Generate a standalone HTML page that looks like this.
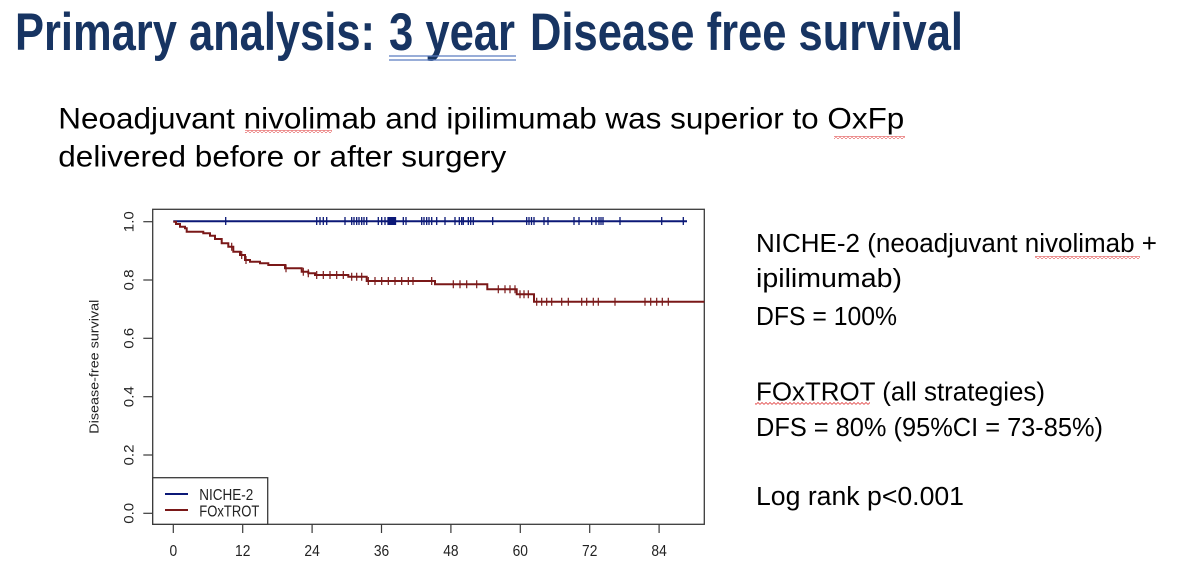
<!DOCTYPE html>
<html>
<head>
<meta charset="utf-8">
<style>
  html,body{margin:0;padding:0;background:#fff;}
  body{width:1200px;height:564px;overflow:hidden;}
  svg{display:block;}
</style>
</head>
<body>
<svg width="1200" height="564" viewBox="0 0 1200 564" xmlns="http://www.w3.org/2000/svg">
  <defs>
    <pattern id="sq" width="4" height="3" patternUnits="userSpaceOnUse">
      <path d="M0,2.5 L2,0.5 L4,2.5" stroke="#e04040" stroke-width="0.8" fill="none"/>
    </pattern>
  </defs>
  <rect width="1200" height="564" fill="#fff"/>

  <!-- Title -->
  <g font-family="'Liberation Sans Narrow','Liberation Sans',sans-serif" font-weight="bold" font-size="53" fill="#173462">
    <text x="15" y="50" textLength="360" lengthAdjust="spacingAndGlyphs">Primary analysis:</text>
    <text x="389" y="50" textLength="126" lengthAdjust="spacingAndGlyphs">3 year</text>
    <text x="530" y="50" textLength="433" lengthAdjust="spacingAndGlyphs">Disease free survival</text>
  </g>
  <line x1="389" y1="56" x2="516" y2="56" stroke="#5a7cc0" stroke-width="1.3"/>
  <line x1="389" y1="60" x2="516" y2="60" stroke="#5a7cc0" stroke-width="1.3"/>

  <!-- Subtitle -->
  <g font-family="'Liberation Sans',sans-serif" font-size="29.5" fill="#000">
    <text x="58.3" y="128.3" textLength="846" lengthAdjust="spacingAndGlyphs">Neoadjuvant nivolimab and ipilimumab was superior to OxFp</text>
    <text x="58.3" y="166.7" textLength="448" lengthAdjust="spacingAndGlyphs">delivered before or after surgery</text>
  </g>
  <rect x="245" y="130" width="87" height="3" fill="url(#sq)"/>
  <rect x="834" y="136" width="71" height="3" fill="url(#sq)"/>

  <!-- Right text -->
  <g font-family="'Liberation Sans',sans-serif" font-size="25.5" fill="#000">
    <text x="756" y="252" textLength="401" lengthAdjust="spacingAndGlyphs">NICHE-2 (neoadjuvant nivolimab +</text>
    <text x="756" y="287" textLength="146" lengthAdjust="spacingAndGlyphs">ipilimumab)</text>
    <text x="756" y="325" textLength="141" lengthAdjust="spacingAndGlyphs">DFS = 100%</text>
    <text x="756" y="400.5" textLength="289" lengthAdjust="spacingAndGlyphs">FOxTROT (all strategies)</text>
    <text x="756" y="436" textLength="347" lengthAdjust="spacingAndGlyphs">DFS = 80% (95%CI = 73-85%)</text>
    <text x="756" y="505" textLength="208" lengthAdjust="spacingAndGlyphs">Log rank p&lt;0.001</text>
  </g>
  <rect x="1035" y="256" width="105" height="3" fill="url(#sq)"/>
  <rect x="755" y="402" width="115" height="3" fill="url(#sq)"/>

  <!-- Chart frame -->
  <rect x="152.7" y="209.3" width="551.6" height="315" fill="none" stroke="#3a3a3a" stroke-width="1.3"/>

  <!-- Y axis ticks -->
  <g stroke="#3a3a3a" stroke-width="1.2">
    <line x1="143.3" y1="513.3" x2="152.7" y2="513.3"/>
    <line x1="143.3" y1="455" x2="152.7" y2="455"/>
    <line x1="143.3" y1="396.7" x2="152.7" y2="396.7"/>
    <line x1="143.3" y1="338.3" x2="152.7" y2="338.3"/>
    <line x1="143.3" y1="280" x2="152.7" y2="280"/>
    <line x1="143.3" y1="221.7" x2="152.7" y2="221.7"/>
  </g>
  <g font-family="'Liberation Sans',sans-serif" font-size="13.5" fill="#222" text-anchor="middle">
    <text transform="translate(133.5,513.3) rotate(-90) scale(1.12,1)">0.0</text>
    <text transform="translate(133.5,455) rotate(-90) scale(1.12,1)">0.2</text>
    <text transform="translate(133.5,396.7) rotate(-90) scale(1.12,1)">0.4</text>
    <text transform="translate(133.5,338.3) rotate(-90) scale(1.12,1)">0.6</text>
    <text transform="translate(133.5,280) rotate(-90) scale(1.12,1)">0.8</text>
    <text transform="translate(133.5,221.7) rotate(-90) scale(1.12,1)">1.0</text>
  </g>
  <text transform="translate(98.3,366.7) rotate(-90)" font-family="'Liberation Sans',sans-serif" font-size="13" fill="#222" text-anchor="middle" textLength="134" lengthAdjust="spacingAndGlyphs">Disease-free survival</text>

  <!-- X axis ticks -->
  <g stroke="#3a3a3a" stroke-width="1.2">
    <line x1="173.3" y1="524.3" x2="173.3" y2="533"/>
    <line x1="242.7" y1="524.3" x2="242.7" y2="533"/>
    <line x1="312.1" y1="524.3" x2="312.1" y2="533"/>
    <line x1="381.5" y1="524.3" x2="381.5" y2="533"/>
    <line x1="450.9" y1="524.3" x2="450.9" y2="533"/>
    <line x1="520.3" y1="524.3" x2="520.3" y2="533"/>
    <line x1="589.7" y1="524.3" x2="589.7" y2="533"/>
    <line x1="659.1" y1="524.3" x2="659.1" y2="533"/>
  </g>
  <g font-family="'Liberation Sans',sans-serif" font-size="13.8" fill="#222" text-anchor="middle">
    <text transform="translate(173.3,556) scale(1,1.12)">0</text>
    <text transform="translate(242.7,556) scale(1,1.12)">12</text>
    <text transform="translate(312.1,556) scale(1,1.12)">24</text>
    <text transform="translate(381.5,556) scale(1,1.12)">36</text>
    <text transform="translate(450.9,556) scale(1,1.12)">48</text>
    <text transform="translate(520.3,556) scale(1,1.12)">60</text>
    <text transform="translate(589.7,556) scale(1,1.12)">72</text>
    <text transform="translate(659.1,556) scale(1,1.12)">84</text>
  </g>

  <!-- NICHE-2 curve -->
  <line x1="173.3" y1="221.2" x2="687" y2="221.2" stroke="#0b1877" stroke-width="2"/>
  <path stroke="#0b1877" stroke-width="1.3" fill="none" d="
    M225.7,217v8 M316.7,217v8 M320,217v8 M323.3,217v8 M326.7,217v8
    M345,217v8 M351.7,217v8 M354,217v8 M356.7,217v8 M359,217v8 M361.7,217v8 M364,217v8 M366.7,217v8
    M378.3,217v8 M381.7,217v8 M385,217v8
    M388,217v8 M389.3,217v8 M390.6,217v8 M391.9,217v8 M393.2,217v8 M394.5,217v8 M395.5,217v8
    M403.3,217v8 M406,217v8
    M421.7,217v8 M424,217v8 M426.7,217v8 M429,217v8 M431.7,217v8 M436.7,217v8 M445,217v8
    M455,217v8 M459.3,217v8 M461.7,217v8 M463.3,217v8 M468.3,217v8 M470.7,217v8 M473.3,217v8
    M492.7,217v8 M526.7,217v8 M529,217v8 M531.5,217v8 M534,217v8 M544,217v8 M548,217v8
    M574,217v8 M579,217v8 M591.7,217v8 M596,217v8 M599,217v8 M601,217v8 M603,217v8
    M620,217v8 M661.7,217v8 M683.3,217v8"/>

  <!-- FOxTROT curve -->
  <path stroke="#7a1818" stroke-width="2" fill="none" d="
    M173.3,221.7 H176 V224 H180 V226.7 H185 V228.3 H186.7 V231.7 H203.3 V233.3 H210 V235.7 H215 V239
    H221.7 V243.3 H228.3 V246.7 H233.3 V251.7 H240 V255 H245 V260 H250 V261.7 H260 V263.3 H268.3 V265
    H285 V268.3 H301.7 V271.7 H308.3 V273.3 H315 V275 H348.3 V276.7 H366.7 V281 H435 V284.3
    H487.3 V289.3 H516.7 V294.3 H534 V301.7 H704.3"/>
  <path stroke="#7a1818" stroke-width="1.2" fill="none" d="
    M231.7,242.7v8 M241.7,251v8 M246,256v8 M286,264.3v8 M303.3,267.7v8 M308.3,269.3v8
    M316.7,271v8 M323.3,271v8 M330,271v8 M336.7,271v8 M343.3,271v8
    M351.7,272.7v8 M356.7,272.7v8 M361.7,272.7v8
    M368.3,277v8 M375,277v8 M381.7,277v8 M388.3,277v8 M395,277v8 M401.7,277v8 M408.3,277v8 M413,277v8 M431.7,277v8
    M453.3,280.3v8 M460,280.3v8 M466.7,280.3v8 M476.7,280.3v8
    M498.3,285.3v8 M505,285.3v8 M510,285.3v8 M515,285.3v8
    M520,290.3v8 M524,290.3v8 M528.3,290.3v8
    M536.7,297.7v8 M541.7,297.7v8 M546.7,297.7v8 M551.7,297.7v8 M561.7,297.7v8 M568.3,297.7v8
    M581.7,297.7v8 M586.7,297.7v8 M593.3,297.7v8 M598.3,297.7v8 M615,297.7v8
    M645,297.7v8 M650.7,297.7v8 M656.7,297.7v8 M662.3,297.7v8 M668.3,297.7v8"/>

  <!-- Legend -->
  <rect x="152.7" y="477.7" width="115" height="46.6" fill="#fff" stroke="#3a3a3a" stroke-width="1.3"/>
  <line x1="165" y1="494" x2="188" y2="494" stroke="#0b1877" stroke-width="2"/>
  <line x1="165" y1="510" x2="188" y2="510" stroke="#7a1818" stroke-width="2"/>
  <g font-family="'Liberation Sans',sans-serif" font-size="14" fill="#222">
    <text transform="translate(199.3,500) scale(1,1.15)" textLength="54" lengthAdjust="spacingAndGlyphs">NICHE-2</text>
    <text transform="translate(199.3,516.5) scale(1,1.15)" textLength="60" lengthAdjust="spacingAndGlyphs">FOxTROT</text>
  </g>
</svg>
</body>
</html>
